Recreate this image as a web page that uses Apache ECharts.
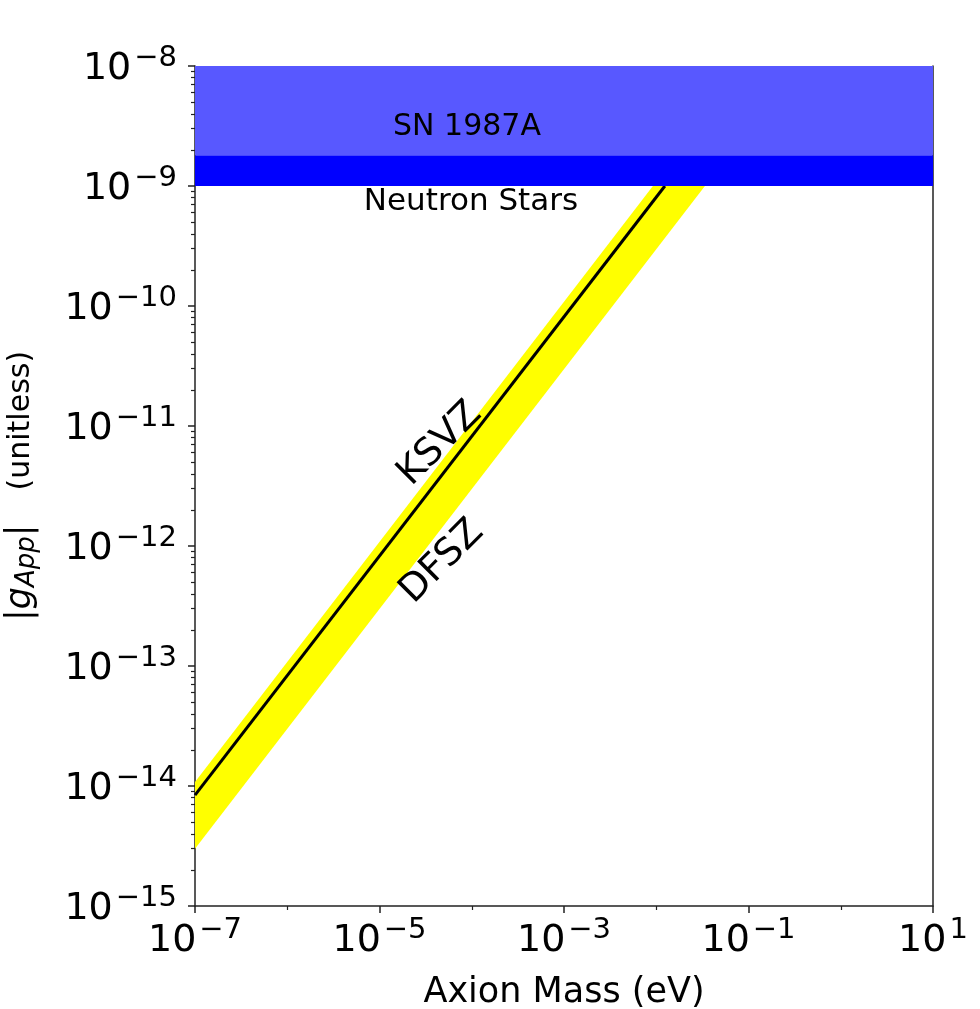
<!DOCTYPE html>
<html>
<head>
<meta charset="utf-8">
<title>Axion coupling vs mass</title>
<script src="https://cdn.jsdelivr.net/npm/echarts@6/dist/echarts.min.js"></script>
<style>
  html, body { margin: 0; padding: 0; background: #fff; }
  #chart { width: 980px; height: 1009px; }
</style>
</head>
<body>
<div id="chart"></div>
<script>
// axis ranges and ticks
const xRange = [1e-7, 1e1]
const yRange = [1e-15, 1e-8]
const xMajorTicks = [1e-7, 1e-5, 1e-3, 1e-1, 1e1]
const xMinorTicks = [1e-6, 1e-4, 1e-2, 1e0]
const yDecades = [1e-15, 1e-14, 1e-13, 1e-12, 1e-11, 1e-10, 1e-9, 1e-8]
const yMinorSteps = [2, 3, 4, 5, 6, 7, 8, 9]

// KSVZ line
const ksvzMass = [1e-7, 1.24e-2]
const ksvzCoupling = [8.4e-15, 1e-9]

// DFSZ band edges (yellow)
const bandUpperMass = [1e-7, 9.2e-3]
const bandUpperCoupling = [1.08e-14, 1e-9]
const bandLowerMass = [1e-7, 3.37e-2]
const bandLowerCoupling = [3.0e-15, 1e-9]

// excluded regions
const limitNames = ['Neutron Stars', 'SN 1987A']
const limitLow = [1e-9, 1.8e-9]
const limitHigh = [1.8e-9, 1e-8]

const FONT = 'DejaVu Sans'
const limitColors = ['#0000ff', '#5858ff']

// minor ticks 2..9 x 10^n on the y axis
const yMinorTicks = []
yDecades.slice(0, -1).forEach(d => {
  yMinorSteps.forEach(s => yMinorTicks.push(s * d))
})

const bandPolygon = bandUpperMass.map((m, i) => [m, bandUpperCoupling[i]])
  .concat(bandLowerMass.map((m, i) => [m, bandLowerCoupling[i]]).reverse())

const limitData = limitNames.map((n, i) => [xRange[0], limitLow[i], xRange[1], limitHigh[i]])

const powerLabel = (v) => {
  const e = Math.round(Math.log10(v))
  const txt = e < 0 ? '\u2212' + (-e) : String(e)
  return '{b|10}{s|' + txt + '}'
}

// "10" plus a raised exponent
const tickRich = {
  b: { fontSize: 38, lineHeight: 44, padding: [4, 0, 0, 0], fontFamily: FONT, color: '#000', verticalAlign: 'bottom' },
  s: { fontSize: 29, lineHeight: 28, padding: [0, 0, 0, 3], fontFamily: FONT, color: '#000', verticalAlign: 'top' }
}

const chart = echarts.init(document.getElementById('chart'))

const option = {
  animation: false,
  backgroundColor: '#fff',
  grid: { left: 195, top: 66, width: 738, height: 840, containLabel: false, outerBoundsMode: 'none' },
  xAxis: [
    {
      type: 'log', min: xRange[0], max: xRange[1], position: 'bottom',
      name: 'Axion Mass (eV)', nameLocation: 'middle', nameGap: 69,
      nameTextStyle: { fontSize: 35, fontFamily: FONT, color: '#000' },
      axisLine: { show: true, lineStyle: { color: '#222', width: 1.5 } },
      axisTick: { show: true, customValues: xMajorTicks, length: 7, lineStyle: { color: '#222', width: 1.5 } },
      axisLabel: { customValues: xMajorTicks, margin: 10, formatter: powerLabel, rich: tickRich },
      splitLine: { show: false }
    },
    {
      type: 'log', min: xRange[0], max: xRange[1], position: 'bottom',
      axisLine: { show: false },
      axisTick: { show: true, customValues: xMinorTicks, length: 4, lineStyle: { color: '#222', width: 1.2 } },
      axisLabel: { show: false },
      splitLine: { show: false }
    }
  ],
  yAxis: [
    {
      type: 'log', min: yRange[0], max: yRange[1], position: 'left', splitNumber: 7,
      name: '{bar||}{i|g}{sub|App}{bar||}{t|(unitless)}', nameLocation: 'middle', nameGap: 155, nameRotate: 90,
      nameTextStyle: {
        rich: {
          bar: { fontSize: 35, lineHeight: 38, fontFamily: FONT, color: '#000' },
          i: { fontSize: 35, lineHeight: 38, fontFamily: FONT, fontStyle: 'italic', color: '#000' },
          sub: { fontSize: 26, lineHeight: 26, fontFamily: FONT, fontStyle: 'italic', color: '#000', verticalAlign: 'bottom' },
          t: { fontSize: 30, lineHeight: 38, padding: [0, 0, 0, 34], fontFamily: FONT, color: '#000' }
        }
      },
      axisLine: { show: true, lineStyle: { color: '#222', width: 1.5 } },
      axisTick: { show: true, customValues: yDecades, length: 7, lineStyle: { color: '#222', width: 1.5 } },
      axisLabel: { customValues: yDecades, margin: 18, formatter: powerLabel, rich: tickRich },
      splitLine: { show: false }
    },
    {
      type: 'log', min: yRange[0], max: yRange[1], position: 'left',
      axisLine: { show: false },
      axisTick: { show: true, customValues: yMinorTicks, length: 4, lineStyle: { color: '#222', width: 1.2 } },
      axisLabel: { show: false },
      splitLine: { show: false }
    },
    {
      type: 'log', min: yRange[0], max: yRange[1], position: 'right',
      axisLine: { show: true, lineStyle: { color: '#222', width: 1.5 } },
      axisTick: { show: false },
      axisLabel: { show: false },
      splitLine: { show: false }
    }
  ],
  series: [
    {
      name: 'DFSZ band',
      type: 'custom',
      data: bandPolygon,
      z: 1,
      renderItem: (params, api) => {
        if (params.dataIndex !== 0) return
        const pts = bandPolygon.map(p => api.coord(p))
        return { type: 'polygon', shape: { points: pts }, style: { fill: '#ffff00' } }
      }
    },
    {
      name: 'KSVZ',
      type: 'line',
      data: ksvzMass.map((m, i) => [m, ksvzCoupling[i]]),
      showSymbol: false,
      z: 3,
      lineStyle: { color: '#000', width: 3 }
    },
    {
      name: 'Limits',
      type: 'custom',
      data: limitData,
      encode: { x: [0, 2], y: [1, 3] },
      z: 10,
      renderItem: (params, api) => {
        const p1 = api.coord([api.value(0), api.value(1)])
        const p2 = api.coord([api.value(2), api.value(3)])
        return {
          type: 'rect',
          shape: { x: p1[0], y: p2[1], width: p2[0] - p1[0], height: p1[1] - p2[1] },
          style: { fill: limitColors[params.dataIndex] }
        }
      }
    }
  ],
  graphic: [
    { type: 'text', x: 467, y: 127, z: 100, style: { text: 'SN 1987A', font: '30px "DejaVu Sans"', fill: '#000', align: 'center', verticalAlign: 'middle' } },
    { type: 'text', x: 471, y: 202, z: 100, style: { text: 'Neutron Stars', font: '31px "DejaVu Sans"', fill: '#000', align: 'center', verticalAlign: 'middle' } },
    { type: 'text', x: 440, y: 444, z: 100, rotation: Math.PI / 4, style: { text: 'KSVZ', font: '38px "DejaVu Sans"', fill: '#000', align: 'center', verticalAlign: 'middle' } },
    { type: 'text', x: 442, y: 562, z: 100, rotation: Math.PI / 4, style: { text: 'DFSZ', font: '38px "DejaVu Sans"', fill: '#000', align: 'center', verticalAlign: 'middle' } }
  ]
}

chart.setOption(option)
</script>
</body>
</html>
